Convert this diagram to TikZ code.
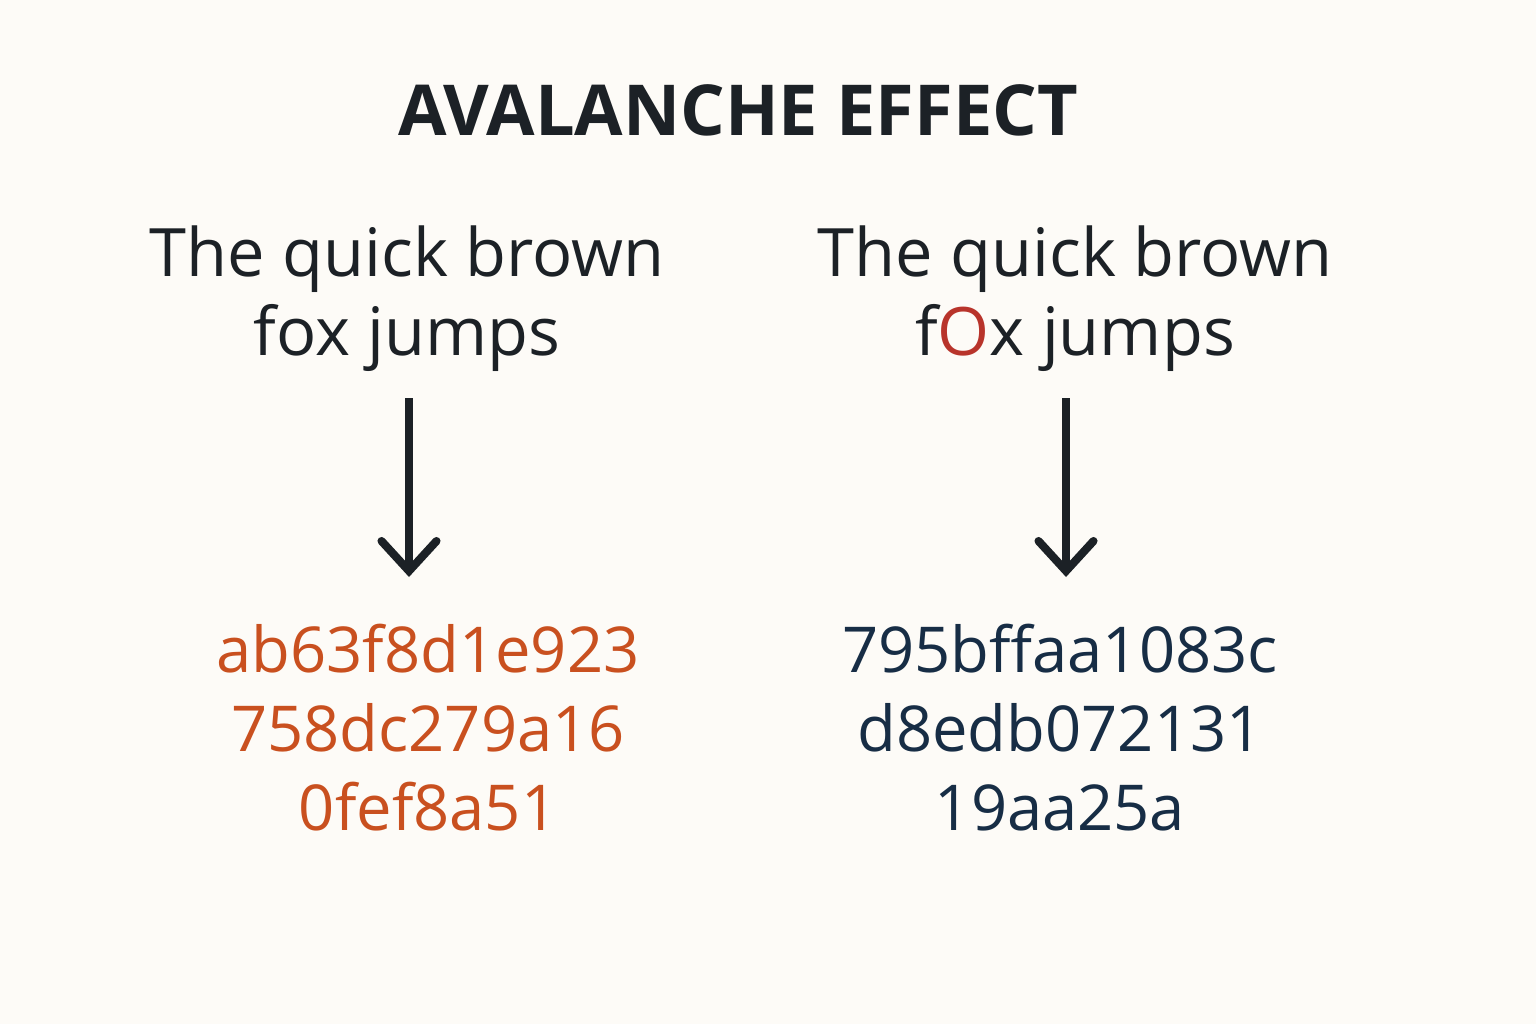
\documentclass[tikz,border=0pt]{standalone}
\usepackage{fontspec}
\setmainfont{Open Sans}
\usetikzlibrary{positioning,arrows.meta}
\definecolor{bg}{HTML}{FDFBF7}
\definecolor{ink}{HTML}{1C2126}
\definecolor{hashA}{HTML}{C9501F}
\definecolor{hashB}{HTML}{172D45}
\definecolor{flip}{HTML}{B8342B}
\begin{document}
\begin{tikzpicture}
[>={Straight Barb[length=3mm,width=5.5mm,line width=2.3pt,line cap=round]},
 msg/.style={align=center,text=ink,font=\fontsize{19}{22.5}\selectfont},
 hash/.style={align=center,font=\fontsize{18}{22.5}\selectfont},
 flow/.style={->,draw=ink,line width=2.3pt},]
\fill[bg] (0,0) rectangle (15.36,10.24);
\useasboundingbox (0,0) rectangle (15.36,10.24);

%Title
\node (title) at (7.38,9.14) [text=ink,font=\fontsize{20}{24}\bfseries\selectfont] {AVALANCHE EFFECT};

%Messages
\node (msgA) at (4.07,7.25) [msg] {The quick brown\\fox jumps};
\node (msgB) at (10.75,7.25) [msg] {The quick brown\\f{\color{flip}O}x jumps};

%Hashes
\node (hashA) at (4.28,2.96) [hash,text=hashA] {ab63f8d1e923\\758dc279a16\\0fef8a51};
\node (hashB) at (10.60,2.96) [hash,text=hashB] {795bffaa1083c\\d8edb072131\\19aa25a};

%Arrows
\coordinate (a1) at (4.09,6.26);
\coordinate (a2) at (4.09,4.47);
\coordinate (b1) at (10.66,6.26);
\coordinate (b2) at (10.66,4.47);
\draw[flow] (a1) -- (a2);
\draw[flow] (b1) -- (b2);
\end{tikzpicture}
\end{document}
